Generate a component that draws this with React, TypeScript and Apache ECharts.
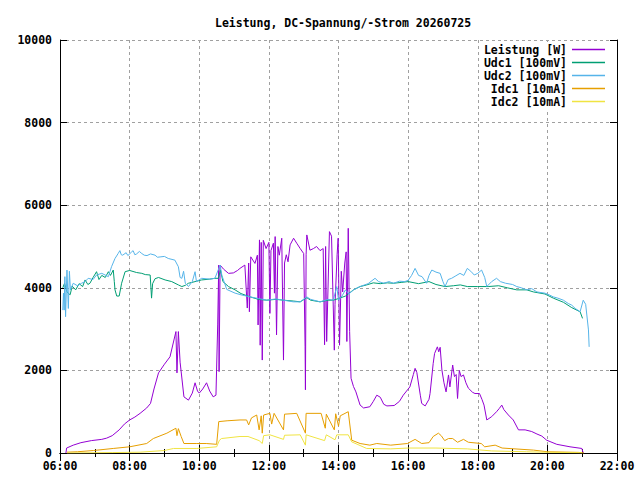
import React, { useEffect, useRef } from 'react'
import * as echarts from 'echarts'

// Zeit in Stunden (6.5 = 06:30)
const leistungTime = [
	6.17, 6.19, 6.38, 6.6, 6.9, 7.2, 7.34, 7.5, 7.7, 7.85, 8.0, 8.15, 8.3, 8.49, 8.6, 8.7, 8.83, 9.0, 9.16, 9.33,
	9.36, 9.4, 9.45, 9.56, 9.69, 9.8, 9.88, 9.95, 10.0, 10.1, 10.21, 10.3, 10.4, 10.48, 10.53, 10.56, 10.57, 10.6,
	10.7, 10.84, 10.98, 11.1, 11.17, 11.31, 11.38, 11.42, 11.44, 11.48, 11.6, 11.67, 11.69, 11.73, 11.75, 11.78,
	11.81, 11.84, 11.92, 12.0, 12.03, 12.06, 12.13, 12.16, 12.18, 12.22, 12.26, 12.3, 12.37, 12.42, 12.45, 12.5,
	12.55, 12.61, 12.71, 12.8, 12.9, 13.0, 13.04, 13.05, 13.07, 13.09, 13.18, 13.28, 13.37, 13.47, 13.56, 13.6,
	13.63, 13.66, 13.74, 13.8, 13.88, 13.9, 13.96, 13.99, 14.03, 14.08, 14.12, 14.18, 14.22, 14.24, 14.28, 14.32,
	14.36, 14.43, 14.5, 14.62, 14.72, 14.9, 15.0, 15.1, 15.2, 15.3, 15.39, 15.6, 15.75, 15.86, 16.05, 16.15, 16.2,
	16.25, 16.35, 16.39, 16.49, 16.6, 16.63, 16.72, 16.76, 16.84, 16.88, 16.92, 16.97, 17.03, 17.09, 17.16, 17.2,
	17.28, 17.33, 17.38, 17.42, 17.47, 17.52, 17.59, 17.66, 17.73, 17.85, 17.92, 18.05, 18.12, 18.18, 18.26, 18.4,
	18.54, 18.62, 18.69, 18.75, 18.88, 19.02, 19.17, 19.36, 19.55, 19.7, 19.84, 19.98, 20.27, 20.65, 20.99, 21.03,
]
const leistungValue = [
	0, 120, 190, 250, 300, 330, 360, 420, 560, 700, 800, 870, 960, 1090, 1200, 1550, 1940, 2150, 2330, 2940,
	1940, 2940, 2200, 1360, 1280, 1450, 1700, 1500, 1450, 1550, 1700, 1500, 1360, 1400, 3100, 4550, 1970, 4550,
	4450, 4350, 4360, 4420, 4470, 4550, 3510, 4600, 3420, 4750, 4590, 4790, 3100, 5160, 2610, 5100,
	2250, 5150, 4950, 5100, 3380, 4900, 5080, 3870, 5240, 2860, 5000, 4790, 5200, 2250, 4600, 4800,
	4630, 5040, 5200, 5080, 4950, 4830, 2570, 1530, 4800, 5280, 4910, 4950, 5000, 4900, 4950, 2620,
	5000, 2700, 5360, 5250, 2490, 3600, 4800, 5200, 2610, 4400, 3900, 4600, 4870, 2700, 5440, 2940,
	1810, 1610, 1480, 1160, 1090, 1120, 1250, 1400, 1350, 1180, 1140, 1150, 1250, 1400, 1600, 1900, 2050,
	1950, 1400, 1200, 1140, 1300, 1440, 2170, 2410, 2570, 2450, 2560, 2010, 1700, 1480, 1890, 1600,
	2130, 1850, 1900, 1320, 2000, 1850, 1890, 1700, 1570, 1470, 1440, 1440, 1300, 1160, 800, 880,
	1000, 1080, 1160, 1050, 920, 800, 560, 560, 520, 460, 410, 310, 210, 150, 110, 0,
]

const udc1Time = [
	6.08, 6.13, 6.2, 6.29, 6.35, 6.45, 6.55, 6.65, 6.72, 6.8, 6.86, 6.95, 7.05, 7.12, 7.2, 7.3, 7.39, 7.45, 7.53,
	7.56, 7.58, 7.63, 7.7, 7.77, 7.87, 8.0, 8.2, 8.35, 8.45, 8.59, 8.63, 8.66, 8.73, 8.83, 9.02, 9.21, 9.4, 9.5,
	9.6, 9.69, 9.88, 10.07, 10.3, 10.45, 10.55, 10.61, 10.68, 10.84, 11.03, 11.2, 11.46, 11.7, 11.94, 12.2, 12.42,
	12.7, 12.9, 13.09, 13.2, 13.47, 13.7, 13.85, 14.0, 14.2, 14.43, 14.62, 14.81, 15.0, 15.2, 15.4, 15.58, 15.8,
	16.0, 16.3, 16.6, 16.8, 17.06, 17.3, 17.5, 17.7, 18.0, 18.3, 18.6, 18.85, 19.12, 19.41, 19.6, 19.93, 20.17,
	20.46, 20.7, 20.94, 21.01,
]
const udc1Value = [
	4000, 4110, 3900, 3830, 4040, 3950, 4100, 4030, 4190, 4080, 4110, 4250, 4390, 4200, 4300, 4250, 4390, 4300, 4430,
	4150, 3950, 3800, 3800, 4110, 4390, 4420, 4370, 4350, 4320, 4310, 3750, 4100, 4220, 4250, 4190, 4150, 4070, 4030,
	4060, 4110, 4150, 4190, 4210, 4230, 4230, 4430, 4150, 4030, 3950, 3860, 3780, 3720, 3700, 3720, 3700,
	3680, 3660, 3760, 3700, 3660, 3700, 3700, 3740, 3800, 3950, 4030, 4070, 4120, 4100, 4120, 4110, 4130,
	4150, 4100, 4150, 4080, 4030, 4050, 4070, 4030, 4030, 4030, 4050, 4000, 3950, 3950, 3900, 3850, 3750,
	3650, 3520, 3420, 3260,
]

const udc2Time = [
	6.08, 6.1, 6.12, 6.14, 6.16, 6.2, 6.24, 6.27, 6.3, 6.38, 6.5, 6.62, 6.72, 6.81, 6.95, 7.05, 7.2, 7.39, 7.48,
	7.58, 7.67, 7.72, 7.76, 7.8, 7.9, 7.95, 8.06, 8.1, 8.15, 8.2, 8.28, 8.35, 8.42, 8.5, 8.6, 8.73, 8.8, 8.9, 9.0,
	9.11, 9.3, 9.4, 9.45, 9.5, 9.55, 9.6, 9.69, 9.8, 9.88,
	9.92, 10.07, 10.3, 10.45, 10.6, 10.65, 10.79, 11.03, 11.2, 11.46, 11.7, 11.94, 12.2, 12.42, 12.7, 12.9, 13.09,
	13.2, 13.47, 13.7, 13.85, 13.95, 14.0, 14.1, 14.2, 14.3, 14.43, 14.62, 14.85, 15.05, 15.15, 15.3, 15.45, 15.58,
	15.75, 15.9, 16.0, 16.1, 16.2, 16.3, 16.4, 16.53, 16.6, 16.68, 16.8, 16.92, 17.0, 17.06, 17.15, 17.25, 17.35,
	17.49, 17.6, 17.7, 17.8, 17.9, 18.0, 18.11, 18.2, 18.26, 18.4, 18.54, 18.65, 18.8, 19.0, 19.12, 19.25, 19.41,
	19.55, 19.7, 19.93, 20.05, 20.17, 20.3, 20.46, 20.6, 20.7, 20.8, 20.94, 21.03, 21.1, 21.18, 21.2,
]
const udc2Value = [
	3460, 3870, 3460, 4270, 3300, 4430, 3500, 4400, 3950, 4110, 4050, 4110, 4150, 4230, 4200, 4310, 4350, 4270, 4510,
	4710, 4830, 4900, 4800, 4790, 4850, 4780, 4870, 4900, 4800, 4820, 4880, 4830, 4790, 4780, 4820, 4790, 4740, 4750, 4760,
	4710, 4670, 4510, 4250, 4230, 4400, 4110, 4030, 4150, 4390,
	4150, 4230, 4210, 4230, 4550, 4300, 3960, 3870, 3830, 3780, 3740, 3700, 3730, 3700, 3660, 3660, 3780,
	3720, 3660, 3720, 3700, 4030, 3700, 3800, 3950, 3850, 3950, 4030, 4100, 4230, 4150, 4110, 4150, 4110,
	4160, 4150, 4180, 4300, 4470, 4300, 4270, 4110, 4300, 4430, 4380, 4350, 4150, 4030, 4200, 4230, 4280,
	4350, 4300, 4470, 4400, 4310, 4350, 4430, 4250, 4030, 4150, 4230, 4150, 4110, 4080, 4030, 4000, 3950,
	3980, 3900, 3870, 3830, 3780, 3750, 3700, 3620, 3580, 3500, 3420, 3700, 3600, 2980, 2570,
]

const idc1Time = [
	6.2, 6.5, 6.96, 7.53, 8.0, 8.49, 8.68, 9.07, 9.33, 9.36, 9.4, 9.48, 9.56, 9.93, 10.2, 10.5, 10.56, 10.8, 11.17,
	11.36, 11.42, 11.5, 11.65, 11.72, 11.78, 11.81, 11.85, 12.03, 12.08, 12.15, 12.42, 12.45, 12.8, 13.05, 13.07,
	13.5, 13.62, 13.65, 13.88, 13.92, 14.0, 14.05, 14.28, 14.38, 14.62, 14.9, 15.1, 15.5, 15.98, 16.2, 16.39, 16.6,
	16.72, 16.87, 16.95, 17.05, 17.16, 17.28, 17.42, 17.59, 17.73, 18.1, 18.2, 18.5, 18.7, 19.6, 20.0, 20.9, 21.05,
]
const idc1Value = [
	20, 30, 60, 110, 150, 230, 350, 480, 600, 420, 590, 400, 230, 230, 230, 210, 760, 780, 800,
	800, 680, 850, 920, 560, 900, 480, 920, 960, 700, 960, 560, 940, 960, 480, 960,
	960, 600, 940, 560, 950, 650, 900, 1000, 310, 230, 190, 230, 190, 230, 330, 230, 250,
	400, 480, 420, 300, 350, 350, 260, 330, 260, 230, 150, 190, 120, 70, 30, 15, 0,
]

const idc2Time = [
	6.2, 7.5, 8.3, 9.0, 9.26, 9.93, 10.5, 10.58, 10.64, 11.17, 11.4, 11.72, 11.81, 11.85, 12.03, 12.42, 12.45, 12.9,
	13.05, 13.07, 13.6, 13.65, 13.9, 13.95, 14.28, 14.38, 14.81, 15.5, 16.0, 16.8, 17.7, 18.4, 19.4, 19.9, 21.0,
]
const idc2Value = [
	0, 10, 20, 60, 110, 110, 150, 310, 350, 400, 400, 300, 230, 420, 440, 330, 430, 440,
	190, 440, 300, 440, 320, 440, 440, 270, 110, 100, 120, 120, 100, 50, 30, 20, 5,
]

const seriesNames = ['Leistung [W]', 'Udc1 [100mV]', 'Udc2 [100mV]', 'Idc1 [10mA]', 'Idc2 [10mA]']
const seriesColors = ['#9400d3', '#009e73', '#56b4e9', '#e69f00', '#f0e442']

const font = 'DejaVu Sans Mono'

const pairs = (t: number[], v: number[]) => t.map((x, i) => [x, v[i]])

const App = () => {
	const chartRef = useRef<HTMLDivElement>(null)

	useEffect(() => {
		document.body.style.margin = '0'
		const chart = echarts.init(chartRef.current, null, { renderer: 'svg' })

		const tickStyle = { color: '#000', width: 1 }
		const gridLine = { show: true, lineStyle: { color: '#a0a0a0', type: [3, 3], width: 1 } }
		const label = { color: '#000', fontFamily: font, fontSize: 11.5, fontWeight: 'bold' }

		const allData = [
			pairs(leistungTime, leistungValue),
			pairs(udc1Time, udc1Value),
			pairs(udc2Time, udc2Value),
			pairs(idc1Time, idc1Value),
			pairs(idc2Time, idc2Value),
		]

		chart.setOption({
			animation: false,
			backgroundColor: '#fff',
			title: {
				text: 'Leistung, DC-Spannung/-Strom 20260725',
				left: 210,
				top: 12,
				textStyle: { ...label },
			},
			legend: {
				data: seriesNames,
				orient: 'vertical',
				right: 31,
				top: 42,
				padding: [1, 4, 1, 4],
				itemGap: 0,
				itemWidth: 33,
				itemHeight: 1.5,
				icon: 'rect',
				align: 'right',
				backgroundColor: '#fff',
				formatter: (name: string) => `{a|${name}}`,
				textStyle: {
					rich: {
						a: { ...label, width: 84, align: 'right', lineHeight: 13, height: 13 },
					},
				},
			},
			grid: { left: 60, right: 23, top: 40, bottom: 27 },
			xAxis: [
				{
					type: 'value',
					min: 6,
					max: 22,
					interval: 2,
					position: 'bottom',
					axisLine: { show: true, lineStyle: tickStyle },
					axisTick: { show: true, inside: true, length: 8, lineStyle: tickStyle },
					minorTick: { show: true, splitNumber: 2, length: 4, lineStyle: tickStyle },
					splitLine: gridLine,
					axisLabel: {
						...label,
						margin: 7,
						formatter: (v: number) => `${String(v).padStart(2, '0')}:00`,
					},
				},
				{
					type: 'value',
					min: 6,
					max: 22,
					interval: 2,
					position: 'top',
					axisLine: { show: true, lineStyle: tickStyle },
					axisTick: { show: true, inside: true, length: 8, lineStyle: tickStyle },
					minorTick: { show: true, splitNumber: 2, length: 4, lineStyle: tickStyle },
					splitLine: { show: false },
					axisLabel: { show: false },
				},
			],
			yAxis: [
				{
					type: 'value',
					min: 0,
					max: 10000,
					interval: 2000,
					position: 'left',
					axisLine: { show: true, lineStyle: tickStyle },
					axisTick: { show: true, inside: true, length: 7, lineStyle: tickStyle },
					splitLine: gridLine,
					axisLabel: { ...label, margin: 8, formatter: (v: number) => String(v) },
				},
				{
					type: 'value',
					min: 0,
					max: 10000,
					interval: 2000,
					position: 'right',
					axisLine: { show: true, lineStyle: tickStyle },
					axisTick: { show: true, inside: true, length: 7, lineStyle: tickStyle },
					splitLine: { show: false },
					axisLabel: { show: false },
				},
			],
			series: seriesNames.map((name, i) => ({
				name,
				type: 'line',
				data: allData[i],
				symbol: 'none',
				color: seriesColors[i],
				lineStyle: { width: 1, color: seriesColors[i] },
				xAxisIndex: 0,
				yAxisIndex: 0,
			})),
		})

		return () => {
			chart.dispose()
		}
	}, [])

	return <div ref={chartRef} style={{ width: '640px', height: '480px' }} />
}

export default App
